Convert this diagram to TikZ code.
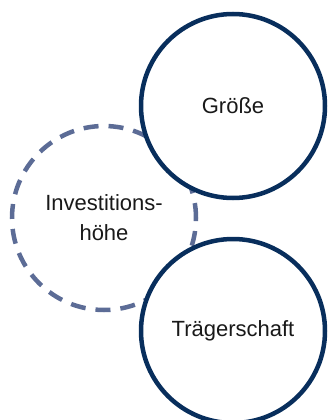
\documentclass[tikz,border=0pt]{standalone}
\usepackage{fontspec}
\setmainfont{Liberation Sans}
\usetikzlibrary{positioning}
\definecolor{navy}{RGB}{8,46,92}
\definecolor{slate}{RGB}{92,108,150}

\begin{document}
\begin{tikzpicture}[x=1pt,y=-1pt,
		main node/.style={circle,draw=navy,line width=4.5pt,fill=white,minimum size=184pt,inner sep=0pt,
			align=center,text=black!90,font=\fontsize{22}{30}\selectfont},
		side node/.style={main node,draw=slate,fill=none,dash pattern=on 15pt off 10pt}]
	\useasboundingbox (0,0) rectangle (327,420);

	\node[side node] (invest) at (104,218) {Investitions-\\höhe};
	\node[main node] (groesse) at (233,106) {Größe};
	\node[main node] (traeger) [below=36.5pt of groesse] {Trägerschaft};
\end{tikzpicture}
\end{document}
